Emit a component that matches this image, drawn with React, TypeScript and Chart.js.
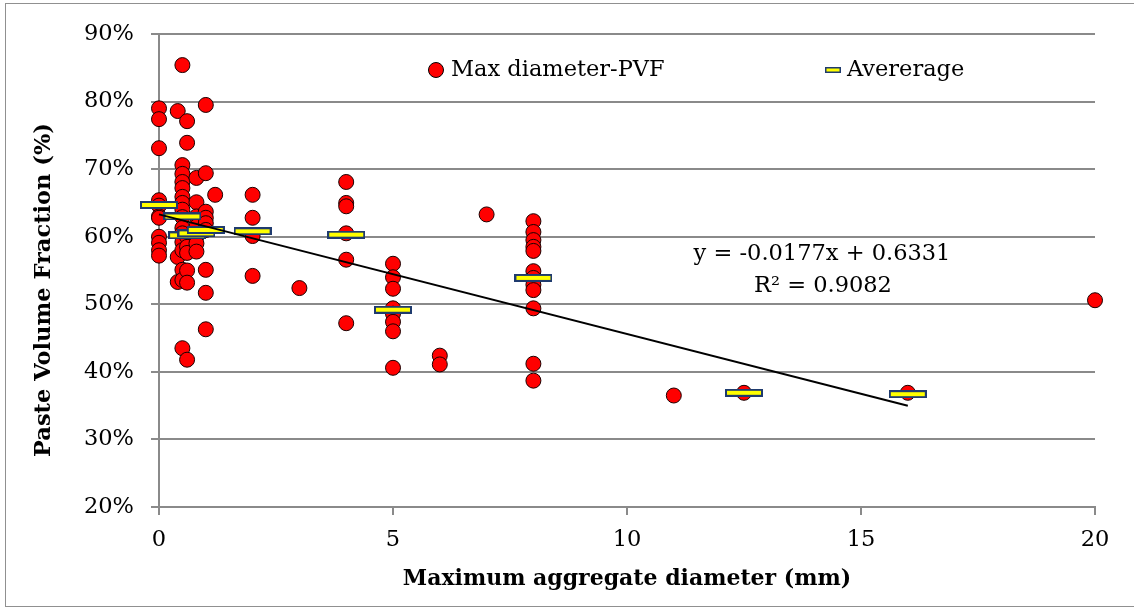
import React, { useEffect, useRef } from "react";
import { Chart, registerables } from "chart.js";

Chart.register(...registerables);

// Max diameter (mm) vs paste volume fraction (%)
const pvfDiameters = [
  0, 0, 0, 0, 0, 0, 0, 0, 0, 0, 0,
  0.4, 0.4, 0.4,
  0.5, 0.5, 0.5, 0.5, 0.5, 0.5, 0.5, 0.5, 0.5, 0.5, 0.5, 0.5, 0.5, 0.5, 0.5, 0.5,
  0.6, 0.6, 0.6, 0.6, 0.6, 0.6, 0.6, 0.6,
  0.8, 0.8, 0.8, 0.8, 0.8, 0.8, 0.8,
  1, 1, 1, 1, 1, 1, 1, 1, 1,
  1.2,
  2, 2, 2, 2,
  3,
  4, 4, 4, 4, 4, 4,
  5, 5, 5, 5, 5, 5, 5, 5,
  6, 6,
  7,
  8, 8, 8, 8, 8, 8, 8, 8, 8, 8, 8, 8,
  11,
  12.5,
  16,
  20,
];
const pvfValues = [
  79.0, 77.4, 73.1, 65.4, 64.6, 63.0, 62.8, 60.0, 59.1, 58.0, 57.2,
  78.6, 57.0, 53.3,
  85.4, 70.6, 69.3, 68.1, 67.2, 65.9, 65.0, 64.0, 62.9, 61.3, 60.5, 59.2, 58.0, 55.1, 53.6, 43.5,
  77.1, 73.9, 60.0, 58.5, 57.6, 55.0, 53.2, 41.8,
  68.7, 65.1, 63.0, 61.5, 60.0, 59.0, 57.8,
  79.5, 69.4, 63.7, 62.8, 62.0, 61.0, 55.1, 51.7, 46.3,
  66.2,
  66.2, 62.8, 60.1, 54.2,
  52.4,
  68.1, 65.0, 64.5, 60.5, 56.6, 47.2,
  56.0, 54.0, 52.3, 49.4, 48.6, 47.4, 46.0, 40.6,
  42.4, 41.1,
  63.3,
  62.3, 60.7, 59.5, 58.5, 57.9, 54.9, 53.9, 52.9, 52.1, 49.4, 41.2, 38.7,
  36.5,
  36.9,
  36.9,
  50.6,
];

// Average per diameter
const avgDiameters = [0, 0.5, 0.6, 0.8, 1, 2, 4, 5, 8, 12.5, 16];
const avgValues = [64.7, 63.0, 60.2, 60.5, 61.0, 60.8, 60.3, 49.2, 53.9, 36.9, 36.7];

// Linear trendline end points (as drawn)
const trendDiameters = [0, 16];
const trendValues = [63.31, 34.99];

const yTickMin = 20;
const yTickMax = 90;
const yTickStep = 10;
const xTickMin = 0;
const xTickMax = 20;
const xTickStep = 5;

const legendLabels = ["Max diameter-PVF", "Avererage"];
const trendLabels = ["y = -0.0177x + 0.6331", "R\u00B2 = 0.9082"];
const yTitle = "Paste Volume Fraction (%)";
const xTitle = "Maximum aggregate diameter (mm)";

const SERIF = "'DejaVu Serif', serif";
const GRID = "#8a8a8a";

function makeBar(w: number, h: number, lw: number): HTMLCanvasElement {
  const c = document.createElement("canvas");
  c.width = w;
  c.height = h;
  const ctx = c.getContext("2d")!;
  ctx.fillStyle = "#FFFF00";
  ctx.fillRect(0, 0, w, h);
  ctx.strokeStyle = "#1F3B6E";
  ctx.lineWidth = lw;
  ctx.strokeRect(lw / 2, lw / 2, w - lw, h - lw);
  return c;
}

export default function App() {
  const ref = useRef<HTMLCanvasElement | null>(null);

  useEffect(() => {
    const canvas = ref.current;
    if (!canvas) return;
    const bar = makeBar(38, 8, 2);

    const overlay = {
      id: "overlay",
      afterDraw(chart: any) {
        const ctx = chart.ctx as CanvasRenderingContext2D;
        ctx.save();
        // legend
        ctx.font = `22.5px ${SERIF}`;
        ctx.textBaseline = "middle";
        ctx.textAlign = "left";
        ctx.beginPath();
        ctx.arc(436, 70, 7.5, 0, Math.PI * 2);
        ctx.fillStyle = "#FF0000";
        ctx.fill();
        ctx.strokeStyle = "#000";
        ctx.lineWidth = 1;
        ctx.stroke();
        ctx.fillStyle = "#000";
        ctx.fillText(legendLabels[0], 451, 70);
        ctx.drawImage(makeBar(16, 6, 1.5), 825, 67);
        ctx.fillText(legendLabels[1], 847, 70);
        // trendline equation
        ctx.textAlign = "center";
        ctx.fillText(trendLabels[0], 822, 254);
        ctx.fillText(trendLabels[1], 823, 286);
        // y axis title
        ctx.font = `bold 22.5px ${SERIF}`;
        ctx.translate(44, 290);
        ctx.rotate(-Math.PI / 2);
        ctx.fillText(yTitle, 0, 0);
        ctx.restore();
      },
    };

    const chart = new Chart(canvas, {
      type: "scatter",
      data: {
        datasets: [
          {
            label: "Linear (Avererage)",
            data: trendDiameters.map((x, i) => ({ x, y: trendValues[i] })),
            showLine: true,
            borderColor: "#000",
            borderWidth: 2,
            pointRadius: 0,
            fill: false,
            clip: false,
          },
          {
            label: legendLabels[1],
            data: avgDiameters.map((x, i) => ({ x, y: avgValues[i] })),
            pointStyle: bar as any,
            pointRadius: 10,
            clip: false,
          },
          {
            label: legendLabels[0],
            data: pvfDiameters.map((x, i) => ({ x, y: pvfValues[i] })),
            pointStyle: "circle",
            pointRadius: 7.5,
            backgroundColor: "#FF0000",
            borderColor: "#1a0000",
            borderWidth: 1,
            clip: false,
          },
        ],
      },
      options: {
        responsive: false,
        animation: false,
        layout: { padding: { left: 0, top: 34, right: 39, bottom: 0 } },
        plugins: {
          legend: { display: false },
          tooltip: { enabled: false },
        },
        scales: {
          x: {
            type: "linear",
            min: xTickMin,
            max: xTickMax,
            ticks: {
              stepSize: xTickStep,
              color: "#000",
              font: { family: SERIF, size: 22.5 },
              padding: 12,
              maxRotation: 0,
            },
            grid: {
              drawOnChartArea: false,
              drawTicks: true,
              tickLength: 8,
              color: GRID,
              lineWidth: 2,
            },
            border: { display: true, color: GRID, width: 2 },
            title: {
              display: true,
              text: xTitle,
              color: "#000",
              font: { family: SERIF, size: 22, weight: "bold" },
              padding: { top: 0, bottom: 16 },
            },
            afterFit(scale: any) {
              scale.height = 101;
            },
          },
          y: {
            type: "linear",
            min: yTickMin,
            max: yTickMax,
            ticks: {
              stepSize: yTickStep,
              color: "#000",
              font: { family: SERIF, size: 22.5 },
              padding: 17,
              callback: (v: any) => `${v}%`,
            },
            grid: {
              drawTicks: true,
              tickLength: 8,
              color: GRID,
              lineWidth: 2,
            },
            border: { display: true, color: GRID, width: 2 },
            title: { display: false },
            afterFit(scale: any) {
              scale.width = 159;
            },
          },
        },
      },
      plugins: [overlay],
    } as any);

    return () => chart.destroy();
  }, []);

  return (
    <div style={{ position: "fixed", left: 0, top: 0, width: 1134, height: 608, background: "#fff", overflow: "hidden" }}>
      <div
        style={{
          position: "absolute",
          left: 5,
          top: 3,
          width: 1140,
          height: 604,
          border: "1px solid #909090",
          boxSizing: "border-box",
        }}
      />
      <canvas ref={ref} width={1134} height={608} style={{ position: "absolute", left: 0, top: 0, width: 1134, height: 608 }} />
    </div>
  );
}
